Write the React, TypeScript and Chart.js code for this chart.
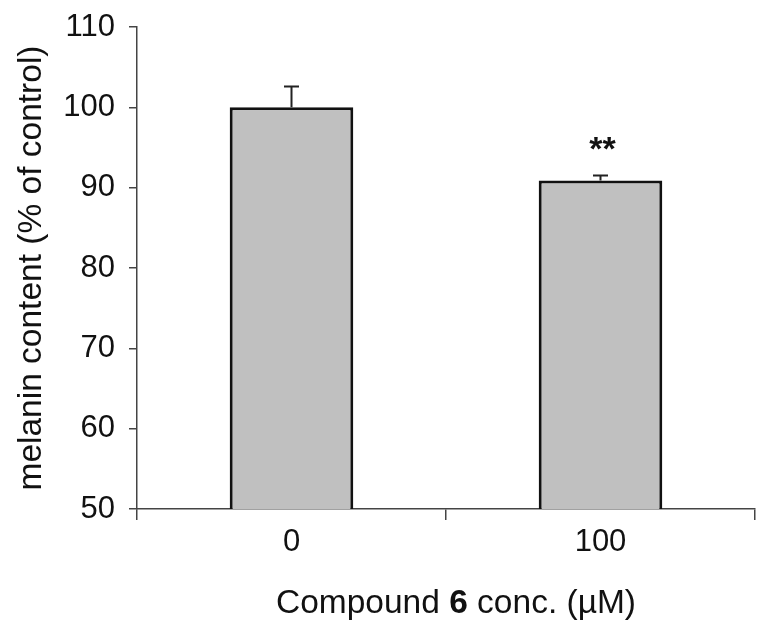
import React, { useEffect, useRef } from "react";
import { Chart, registerables } from "chart.js";

Chart.register(...registerables);

const categories = ["0", "100"];
const melanin = [100, 90.9];
const errors = [2.6, 0.6];
const significance = ["", "**"];
const yMin = 50;
const yMax = 110;
const yStep = 10;
const yTitle = "melanin content (% of control)";
const xTitleParts = [
  { text: "Compound ", bold: false },
  { text: "6", bold: true },
  { text: " conc. (µM)", bold: false },
];

const FONT = "'Liberation Sans', Arial, sans-serif";

const overlayPlugin = {
  id: "overlay",
  afterDatasetsDraw(chart: any) {
    const ctx = chart.ctx;
    const meta = chart.getDatasetMeta(0);
    const y = chart.scales.y;
    ctx.save();
    meta.data.forEach((bar: any, i: number) => {
      const x = bar.x;
      const top = y.getPixelForValue(melanin[i]);
      const errTop = y.getPixelForValue(melanin[i] + errors[i]);
      ctx.strokeStyle = "#222";
      ctx.lineWidth = 2;
      ctx.beginPath();
      ctx.moveTo(x, top);
      ctx.lineTo(x, errTop);
      ctx.moveTo(x - 7.5, errTop);
      ctx.lineTo(x + 7.5, errTop);
      ctx.stroke();
      if (significance[i]) {
        ctx.fillStyle = "#111";
        ctx.font = `bold 34px ${FONT}`;
        ctx.textAlign = "center";
        ctx.textBaseline = "middle";
        ctx.fillText(significance[i], x + 2, errTop - 25);
      }
    });
    ctx.restore();
  },
  afterDraw(chart: any) {
    const ctx = chart.ctx;
    const area = chart.chartArea;
    ctx.save();
    ctx.fillStyle = "#111";
    ctx.textBaseline = "middle";
    ctx.textAlign = "left";
    const size = 33.5;
    let total = 0;
    const widths = xTitleParts.map((p) => {
      ctx.font = `${p.bold ? "bold " : ""}${size}px ${FONT}`;
      const w = ctx.measureText(p.text).width;
      total += w;
      return w;
    });
    let x = (area.left + area.right) / 2 + 10 - total / 2;
    const yy = 604;
    xTitleParts.forEach((p, i) => {
      ctx.font = `${p.bold ? "bold " : ""}${size}px ${FONT}`;
      ctx.fillText(p.text, x, yy);
      x += widths[i];
    });
    ctx.restore();
  },
};

export default function App() {
  const ref = useRef<HTMLCanvasElement | null>(null);
  useEffect(() => {
    if (!ref.current) return;
    const chart = new Chart(ref.current, {
      type: "bar",
      data: {
        labels: categories,
        datasets: [
          {
            data: melanin,
            backgroundColor: "#c0c0c0",
            borderColor: "#111",
            borderWidth: 3,
            barPercentage: 0.4,
            categoryPercentage: 1,
          },
        ],
      },
      options: {
        animation: false,
        responsive: false,
        maintainAspectRatio: false,
        layout: { padding: { top: 27, right: 14, left: 0, bottom: 0 } },
        plugins: {
          legend: { display: false },
          tooltip: { enabled: false },
        },
        scales: {
          x: {
            offset: true,
            grid: {
              offset: true,
              drawOnChartArea: false,
              drawTicks: true,
              tickLength: 11,
              color: "#444",
              lineWidth: 1.5,
            },
            border: { display: true, color: "#444", width: 1.5 },
            ticks: {
              color: "#111",
              font: { family: FONT, size: 31 },
              padding: 4,
            },
            afterFit: (s: any) => {
              s.height = 630 - 509;
            },
          },
          y: {
            min: yMin,
            max: yMax,
            ticks: {
              stepSize: yStep,
              color: "#111",
              font: { family: FONT, size: 31 },
              padding: 14,
            },
            grid: {
              drawOnChartArea: false,
              drawTicks: true,
              tickLength: 8,
              color: "#444",
              lineWidth: 1.5,
            },
            border: { display: true, color: "#444", width: 1.5 },
            title: {
              display: true,
              text: yTitle,
              color: "#111",
              font: { family: FONT, size: 33.5 },
              padding: { top: 12, bottom: 0 },
            },
            afterFit: (s: any) => {
              s.width = 137;
              s.paddingTop = 0;
              s.paddingBottom = 0;
            },
          },
        },
      },
      plugins: [overlayPlugin],
    });
    return () => chart.destroy();
  }, []);
  return (
    <div style={{ position: "fixed", left: 0, top: 0, width: 769, height: 630, background: "#fff" }}>
      <canvas ref={ref} width={769} height={630} style={{ width: 769, height: 630 }} />
    </div>
  );
}
